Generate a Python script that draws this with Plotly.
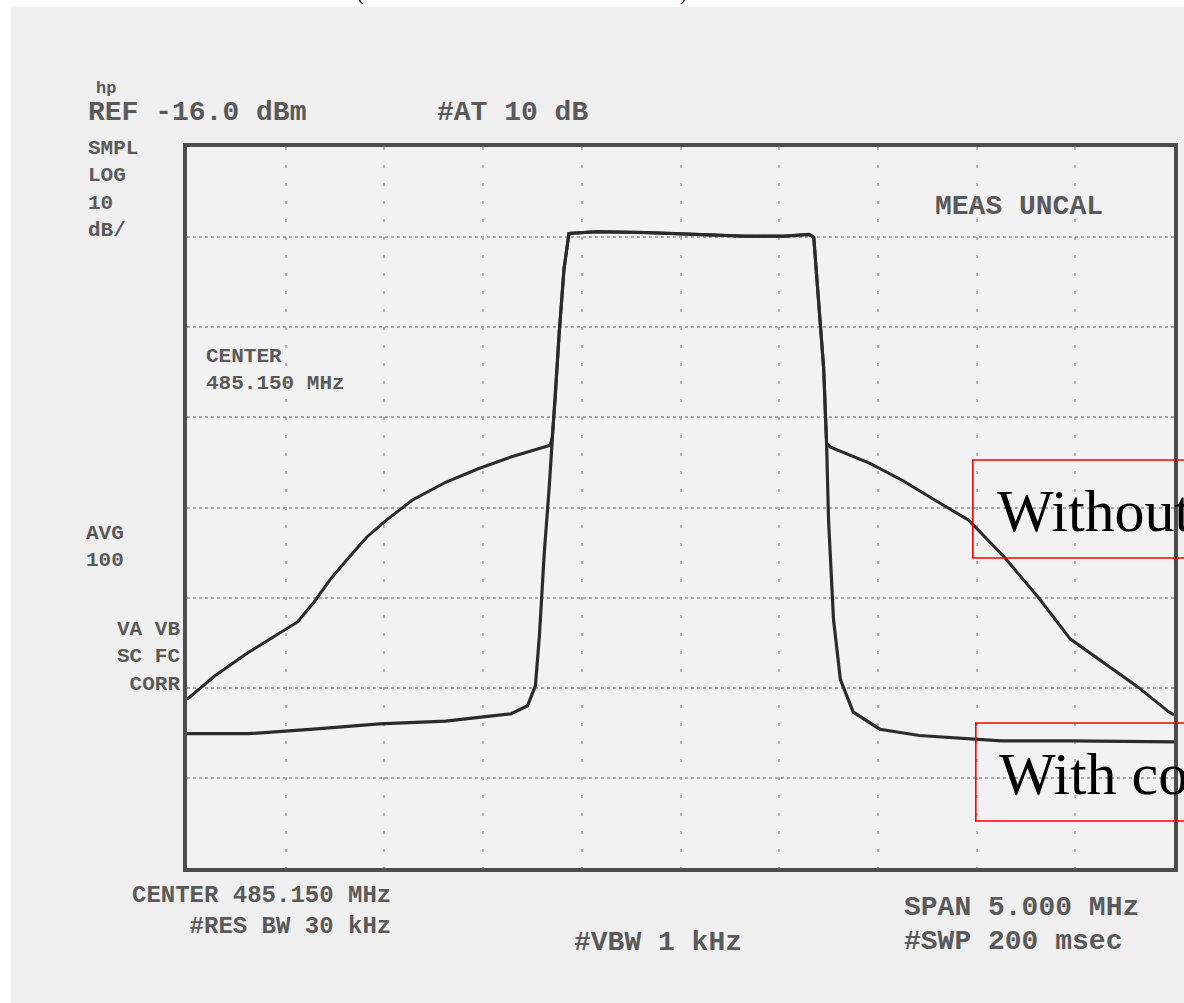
import plotly.graph_objects as go

# ---------------- data ----------------
# frequency axis: centre 485.150 MHz, span 5 MHz ; level axis: REF -16 dBm, 10 dB/div
x_range = [482.65, 487.65]
y_range = [-96.0, -16.0]

# main lobe shared by both traces
lobe_freq = [484.50, 484.515, 484.535, 484.56, 484.585, 484.725, 484.975, 485.225,
             485.475, 485.675, 485.80, 485.825, 485.85, 485.875, 485.89]
lobe_level = [-48.2, -44.1, -36.8, -29.5, -25.6, -25.4, -25.5, -25.7,
              -25.9, -25.9, -25.7, -26.0, -33.1, -40.5, -48.9]

# "With correction" skirts
with_left_freq = [482.65, 482.96, 483.29, 483.625, 483.96, 484.29, 484.375, 484.415,
                  484.435, 484.46, 484.485]
with_left_level = [-81.1, -81.1, -80.6, -80.0, -79.7, -78.9, -78.0, -75.8,
                   -70.3, -61.0, -53.7]
with_right_freq = [485.90, 485.925, 485.96, 486.025, 486.16, 486.36, 486.775, 487.125,
                   487.625, 487.65]
with_right_level = [-57.4, -68.4, -75.1, -78.7, -80.6, -81.3, -81.9, -81.9,
                    -82.0, -82.0]

# "Without correction" skirts
without_left_freq = [482.65, 482.79, 482.96, 483.125, 483.21, 483.29, 483.375, 483.46,
                     483.56, 483.66, 483.79, 483.96, 484.125, 484.29, 484.49]
without_left_level = [-77.3, -74.7, -72.1, -69.9, -68.7, -66.6, -64.0, -61.8,
                      -59.3, -57.4, -55.2, -53.2, -51.7, -50.4, -49.1]
without_right_freq = [485.91, 486.11, 486.275, 486.44, 486.61, 486.79, 486.96, 487.125,
                      487.29, 487.46, 487.625, 487.65]
without_right_level = [-49.3, -51.1, -53.0, -55.2, -57.4, -61.5, -65.9, -70.6,
                       -73.2, -75.8, -78.7, -79.0]

# instrument screen texts
screen_top = ["hp", "REF -16.0 dBm", "#AT 10 dB"]
screen_left = [["SMPL", "LOG", "10", "dB/"], ["AVG", "100"], ["VA VB", "SC FC", "CORR"]]
screen_inside = [["CENTER", "485.150 MHz"], "MEAS UNCAL"]
screen_bottom = [["CENTER 485.150 MHz", "#RES BW 30 kHz"], "#VBW 1 kHz",
                 "SPAN 5.000 MHz", "#SWP 200 msec"]
labels = ["Without correction", "With correction"]

# ---------------- figure ----------------
W, H = 1184, 1003
L, R, T, B = 187, 1178, 147, 868

def px(x):
    return (x - L) / (R - L)

def py(y):
    return (B - y) / (B - T)

fig = go.Figure()

fig.add_trace(go.Scatter(
    x=without_left_freq + lobe_freq + without_right_freq,
    y=without_left_level + lobe_level + without_right_level,
    mode="lines", line=dict(color="#2b2b2b", width=3), name=labels[0],
    hoverinfo="x+y"))
fig.add_trace(go.Scatter(
    x=with_left_freq + lobe_freq + with_right_freq,
    y=with_left_level + lobe_level + with_right_level,
    mode="lines", line=dict(color="#2b2b2b", width=3.2), name=labels[1],
    hoverinfo="x+y"))

def scr(size):
    return dict(family="Liberation Mono", size=size, color="#5a5a5a", weight="bold")

ann = []
def add_text(text, x, y, anchor="left", font=None, align="left"):
    if isinstance(text, list):
        text = "<br>".join(text)
    ann.append(dict(text=text, xref="paper", yref="paper", x=px(x), y=py(y),
                    xanchor=anchor, yanchor="middle", showarrow=False, align=align,
                    font=font or scr(28)))

add_text(screen_top[0], 94, 88, font=scr(17))
add_text(screen_top[1], 86, 112)
add_text(screen_top[2], 436, 112)
add_text(screen_left[0], 86, 190, font=scr(21))
add_text(screen_left[1], 84, 547, font=scr(21))
add_text(screen_left[2], 182, 657, anchor="right", align="right", font=scr(21))
add_text(screen_inside[0], 204, 370, font=scr(21))
add_text(screen_inside[1], 936, 207)
add_text(screen_bottom[0], 262, 911, anchor="center", align="right", font=scr(24))
add_text(screen_bottom[1], 574, 942)
add_text(screen_bottom[2], 905, 907)
add_text(screen_bottom[3], 905, 941)

big = dict(family="Liberation Serif", size=60, color="black")
add_text(labels[0], 998, 511, font=big)
add_text(labels[1], 1000, 774, font=big)

paren = dict(family="Liberation Serif", size=20, color="black")
add_text("(", 356, -7, font=paren)
add_text(")", 680, -7, font=paren)

shapes = [
    dict(type="rect", xref="paper", yref="paper", x0=px(-20), x1=px(W + 20),
         y0=py(7), y1=py(-20), fillcolor="white", line=dict(width=0), layer="below"),
    dict(type="rect", xref="paper", yref="paper", x0=px(-20), x1=px(10),
         y0=py(H + 20), y1=py(-20), fillcolor="white", line=dict(width=0), layer="below"),
    dict(type="rect", xref="paper", yref="paper", x0=px(976), x1=px(W + 40),
         y0=py(558), y1=py(460), line=dict(color="#ff0000", width=1.6)),
    dict(type="rect", xref="paper", yref="paper", x0=px(979), x1=px(W + 40),
         y0=py(821), y1=py(723), line=dict(color="#ff0000", width=1.6)),
]

fig.update_layout(
    width=W, height=H,
    margin=dict(l=L, r=W - R, t=T, b=H - B),
    paper_bgcolor="#efefef", plot_bgcolor="#f2f2f2",
    showlegend=False,
    annotations=ann, shapes=shapes,
    xaxis=dict(range=x_range, tick0=x_range[0], dtick=0.5, showticklabels=False,
               ticks="", showgrid=True, gridcolor="#b4b4b4", gridwidth=2,
               griddash="3px,15px", zeroline=False,
               showline=True, linecolor="#4d4d4d", linewidth=4, mirror=True),
    yaxis=dict(range=y_range, tick0=y_range[1], dtick=10, showticklabels=False,
               ticks="", showgrid=True, gridcolor="#a8a8a8", gridwidth=2,
               griddash="dot", zeroline=False,
               showline=True, linecolor="#4d4d4d", linewidth=4, mirror=True),
)

fig.write_html("out.html", config={"displayModeBar": False},
               post_script="document.body.style.margin='0px';document.body.style.overflow='hidden';")
